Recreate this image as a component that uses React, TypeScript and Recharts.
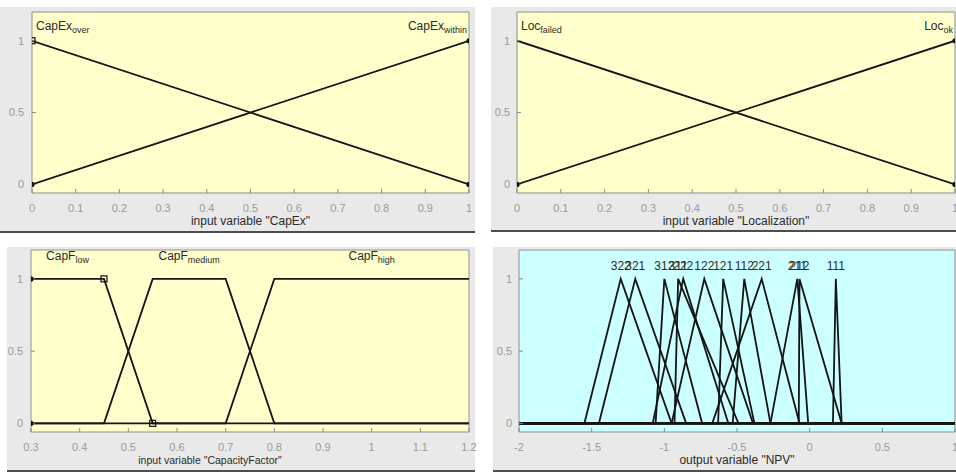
import React from "react";
import {
  LineChart,
  Line,
  XAxis,
  YAxis,
  CartesianGrid,
  ReferenceArea,
  ReferenceDot,
  Label,
} from "recharts";

type Pt = { x: number; y: number; m?: "o" | "s" };

interface Mf {
  name: string;
  sub?: string;
  points: Pt[];
}

// ---- input variable "CapEx" ----
const capExTicks = [0, 0.1, 0.2, 0.3, 0.4, 0.5, 0.6, 0.7, 0.8, 0.9, 1];
const capExOver: Pt[] = [
  { x: 0, y: 1, m: "s" },
  { x: 1, y: 0, m: "o" },
];
const capExWithin: Pt[] = [
  { x: 0, y: 0, m: "o" },
  { x: 1, y: 1, m: "o" },
];

// ---- input variable "Localization" ----
const locTicks = [0, 0.1, 0.2, 0.3, 0.4, 0.5, 0.6, 0.7, 0.8, 0.9, 1];
const locFailed: Pt[] = [
  { x: 0, y: 1 },
  { x: 1, y: 0, m: "o" },
];
const locOk: Pt[] = [
  { x: 0, y: 0, m: "o" },
  { x: 1, y: 1, m: "o" },
];

// ---- input variable "CapacityFactor" ----
const capFTicks = [0.3, 0.4, 0.5, 0.6, 0.7, 0.8, 0.9, 1, 1.1, 1.2];
const capFLow: Pt[] = [
  { x: 0.3, y: 1, m: "o" },
  { x: 0.45, y: 1, m: "s" },
  { x: 0.55, y: 0, m: "s" },
  { x: 1.2, y: 0 },
];
const capFMedium: Pt[] = [
  { x: 0.3, y: 0, m: "o" },
  { x: 0.45, y: 0 },
  { x: 0.55, y: 1 },
  { x: 0.7, y: 1 },
  { x: 0.8, y: 0 },
  { x: 1.2, y: 0 },
];
const capFHigh: Pt[] = [
  { x: 0.3, y: 0 },
  { x: 0.7, y: 0 },
  { x: 0.8, y: 1 },
  { x: 1.2, y: 1 },
];

// ---- output variable "NPV" (triangular MFs) ----
const npvTicks = [-2, -1.5, -1, -0.5, 0, 0.5, 1];
const npvNames = ["322", "321", "312", "311", "222", "122", "121", "112", "221", "211", "212", "111"];
const npvLeft = [-1.55, -1.45, -1.06, -0.93, -1.08, -0.95, -0.63, -0.53, -0.67, -0.27, -0.075, 0.16];
const npvPeak = [-1.3, -1.2, -1.0, -0.905, -0.87, -0.725, -0.595, -0.45, -0.33, -0.085, -0.07, 0.18];
const npvRight = [-0.95, -0.85, -0.74, -0.49, -0.56, -0.39, -0.38, -0.27, -0.07, -0.01, 0.22, 0.22];

const yTicks = [0, 0.5, 1];
const yDomain: [number, number] = [-0.06, 1.2];

const FONT = '"Liberation Sans", Arial, Helvetica, sans-serif';
const TICK_GRAY = "#9a9a9a";
const TEXT_DARK = "#2b2b2b";

const npvMfs: Mf[] = npvNames.map((name, i) => ({
  name,
  points: [
    { x: -2, y: 0 },
    { x: npvLeft[i], y: 0 },
    { x: npvPeak[i], y: 1 },
    { x: npvRight[i], y: 0 },
    { x: 1, y: 0 },
  ],
}));

const fmt = (v: number) => String(Math.round(v * 10) / 10);

const Marker = (p: any) => {
  const { cx, cy, payload, index } = p;
  if (!payload || !payload.m) return <g key={`d-${index}`} />;
  if (payload.m === "s") {
    return (
      <rect key={`d-${index}`} x={cx - 3} y={cy - 3} width={6} height={6} fill="none" stroke="#111" strokeWidth={1.2} />
    );
  }
  return <circle key={`d-${index}`} cx={cx} cy={cy} r={2.6} fill="#111" />;
};

function mfLabel(name: string, sub: string | undefined, anchor: "start" | "middle" | "end", dx: number) {
  return (props: any) => {
    const vb = props.viewBox || {};
    return (
      <text
        x={(vb.x ?? 0) + dx}
        y={vb.y ?? 0}
        textAnchor={anchor}
        dominantBaseline="central"
        fontFamily={FONT}
        fontSize={12}
        fill={TEXT_DARK}
      >
        <tspan>{name}</tspan>
        {sub ? (
          <tspan fontSize={9} dy={4}>
            {sub}
          </tspan>
        ) : null}
      </text>
    );
  };
}

interface PanelProps {
  left: number;
  top: number;
  width: number;
  height: number;
  yAxisWidth: number;
  yTickMargin?: number;
  margin: { top: number; right: number; bottom: number; left: number };
  xDomain: [number, number];
  xTicks: number[];
  mfs: Mf[];
  bg: string;
  xLabel: string;
  xLabelDx?: number;
  xLabelSize?: number;
  labelY: number;
}

function MfPanel(props: PanelProps) {
  const { left, top, width, height, yAxisWidth, margin, xDomain, xTicks, mfs, bg, xLabel, labelY } = props;
  const xLabelDx = props.xLabelDx ?? 0;
  const xLabelSize = props.xLabelSize ?? 12;
  const yTickMargin = props.yTickMargin ?? 11;

  const labels = mfs.map((mf) => {
    const tops = mf.points.filter((p) => p.y === 1).map((p) => p.x);
    const c = (Math.min(...tops) + Math.max(...tops)) / 2;
    let anchor: "start" | "middle" | "end" = "middle";
    let dx = 0;
    if (c <= xDomain[0]) {
      anchor = "start";
      dx = 4;
    } else if (c >= xDomain[1]) {
      anchor = "end";
      dx = -2;
    }
    return { mf, c, anchor, dx };
  });

  return (
    <div style={{ position: "absolute", left, top }}>
      <LineChart width={width} height={height} margin={margin}>
        <CartesianGrid horizontal={false} vertical={false} fill={bg} fillOpacity={1} />
        <XAxis
          type="number"
          dataKey="x"
          domain={xDomain}
          ticks={xTicks}
          allowDataOverflow
          tickFormatter={fmt}
          height={34}
          axisLine={false}
          tickLine={{ stroke: "#8a8a8a" }}
          tickSize={-4}
          tickMargin={15}
          tick={{ fill: TICK_GRAY, fontSize: 11, fontFamily: FONT }}
          interval={0}
        >
          <Label
            content={(p: any) => {
              const vb = p.viewBox || {};
              return (
                <text
                  x={vb.x + vb.width / 2 + xLabelDx}
                  y={vb.y + vb.height - 2}
                  textAnchor="middle"
                  fontFamily={FONT}
                  fontSize={xLabelSize}
                  fill={TEXT_DARK}
                >
                  {xLabel}
                </text>
              );
            }}
          />
        </XAxis>
        <XAxis
          xAxisId="top"
          orientation="top"
          type="number"
          dataKey="x"
          domain={xDomain}
          ticks={xTicks}
          allowDataOverflow
          height={0}
          axisLine={false}
          tickLine={{ stroke: "#8a8a8a" }}
          tickSize={-4}
          tick={() => <g />}
          interval={0}
        />
        <YAxis
          type="number"
          domain={yDomain}
          ticks={yTicks}
          allowDataOverflow
          width={yAxisWidth}
          tickFormatter={fmt}
          axisLine={false}
          tickLine={{ stroke: "#8a8a8a" }}
          tickSize={-4}
          tickMargin={yTickMargin}
          tick={{ fill: TICK_GRAY, fontSize: 11, fontFamily: FONT }}
          interval={0}
        />
        <YAxis
          yAxisId="right"
          orientation="right"
          type="number"
          domain={yDomain}
          ticks={yTicks}
          allowDataOverflow
          width={0}
          axisLine={false}
          tickLine={{ stroke: "#8a8a8a" }}
          tickSize={-4}
          tick={() => <g />}
          interval={0}
        />
        <ReferenceArea
          x1={xDomain[0]}
          x2={xDomain[1]}
          y1={yDomain[0]}
          y2={yDomain[1]}
          fill="none"
          stroke="#8f8f8f"
          strokeWidth={1}
        />
        {mfs.map((mf, i) => (
          <Line
            key={`mf-${i}`}
            data={mf.points}
            dataKey="y"
            type="linear"
            stroke="#141414"
            strokeWidth={1.8}
            dot={Marker}
            activeDot={false}
            isAnimationActive={false}
          />
        ))}
        {labels.map((l, i) => (
          <ReferenceDot
            key={`lab-${i}`}
            x={l.c}
            y={labelY}
            r={0}
            fill="none"
            stroke="none"
            label={mfLabel(l.mf.name, l.mf.sub, l.anchor, l.dx)}
          />
        ))}
      </LineChart>
    </div>
  );
}

const panelBg = "#e9e9e9";
const panelLine = "#4d4d4d";

export default function App() {
  return (
    <div
      style={{
        position: "absolute",
        left: 0,
        top: 0,
        width: 956,
        height: 474,
        background: "#ffffff",
        overflow: "hidden",
        fontFamily: FONT,
      }}
    >
      {/* grey figure backgrounds */}
      <div style={{ position: "absolute", left: 0, top: 7, width: 475, height: 224, background: panelBg }} />
      <div style={{ position: "absolute", left: 0, top: 231, width: 475, height: 2, background: panelLine }} />
      <div style={{ position: "absolute", left: 491, top: 7, width: 465, height: 224, background: panelBg }} />
      <div style={{ position: "absolute", left: 491, top: 230, width: 465, height: 2, background: panelLine }} />
      <div style={{ position: "absolute", left: 7, top: 247, width: 468, height: 223, background: panelBg }} />
      <div style={{ position: "absolute", left: 7, top: 470, width: 468, height: 2, background: panelLine }} />
      <div style={{ position: "absolute", left: 493, top: 247, width: 463, height: 223, background: panelBg }} />
      <div style={{ position: "absolute", left: 493, top: 470, width: 463, height: 2, background: panelLine }} />

      <MfPanel
        left={0}
        top={0}
        width={478}
        height={237}
        yAxisWidth={32}
        yTickMargin={12}
        margin={{ top: 12, right: 9, bottom: 10, left: 0 }}
        xDomain={[0, 1]}
        xTicks={capExTicks}
        bg="#ffffcc"
        xLabel={'input variable "CapEx"'}
        labelY={1.1}
        mfs={[
          { name: "CapEx", sub: "over", points: capExOver },
          { name: "CapEx", sub: "within", points: capExWithin },
        ]}
      />
      <MfPanel
        left={478}
        top={0}
        width={478}
        height={237}
        yAxisWidth={39}
        margin={{ top: 12, right: 1, bottom: 10, left: 0 }}
        xDomain={[0, 1]}
        xTicks={locTicks}
        bg="#ffffcc"
        xLabel={'input variable "Localization"'}
        labelY={1.1}
        mfs={[
          { name: "Loc", sub: "failed", points: locFailed },
          { name: "Loc", sub: "ok", points: locOk },
        ]}
      />
      <MfPanel
        left={0}
        top={237}
        width={478}
        height={237}
        yAxisWidth={31}
        yTickMargin={12}
        margin={{ top: 13, right: 9, bottom: 8, left: 0 }}
        xDomain={[0.3, 1.2]}
        xTicks={capFTicks}
        bg="#ffffcc"
        xLabel={'input variable "CapacityFactor"'}
        xLabelDx={-40}
        xLabelSize={10.5}
        labelY={1.16}
        mfs={[
          { name: "CapF", sub: "low", points: capFLow },
          { name: "CapF", sub: "medium", points: capFMedium },
          { name: "CapF", sub: "high", points: capFHigh },
        ]}
      />
      <MfPanel
        left={478}
        top={237}
        width={478}
        height={237}
        yAxisWidth={41}
        margin={{ top: 13, right: 1, bottom: 8, left: 0 }}
        xDomain={[-2, 1]}
        xTicks={npvTicks}
        bg="#ccffff"
        xLabel={'output variable "NPV"'}
        labelY={1.09}
        mfs={npvMfs}
      />
    </div>
  );
}
